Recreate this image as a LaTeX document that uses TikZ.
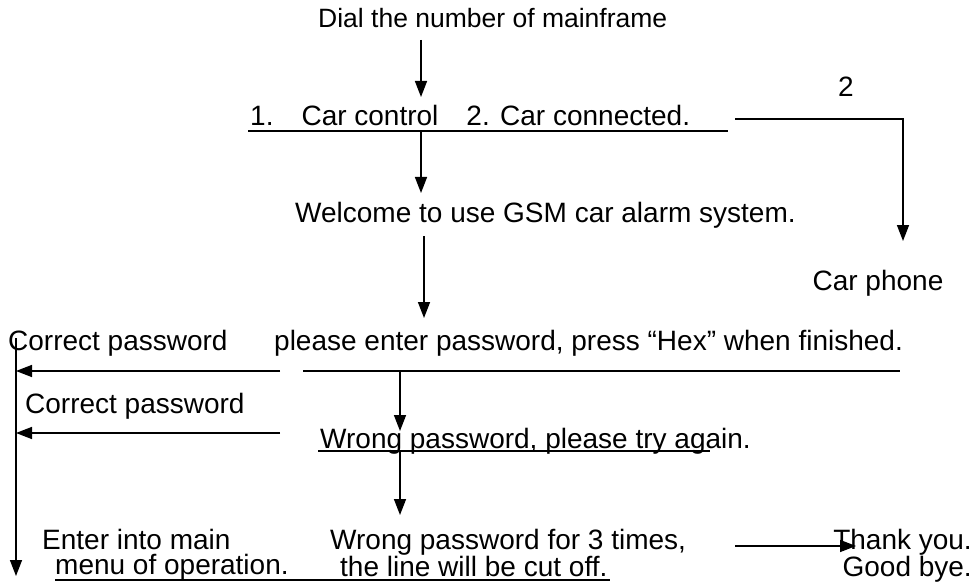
\documentclass[tikz,border=0pt]{standalone}
\usepackage{fontspec}
\setmainfont{Liberation Sans}
\usetikzlibrary{arrows.meta}
\begin{document}
\begin{tikzpicture}[x=1pt,y=1pt,
  lbl/.style={anchor=west,inner sep=0pt,font=\fontsize{28}{30}\selectfont},
  twoline/.style={lbl,anchor=north west,font=\fontsize{28}{25}\selectfont},
  conn/.style={line width=1.5pt},
  arr/.style={conn,-{Triangle[length=16pt,width=12pt]}}]
\useasboundingbox (0,0) rectangle (978,-583);
% texts
\node[lbl,font=\fontsize{26.5}{30}\selectfont] (dial) at (318,-18) {Dial the number of mainframe};
\node[lbl] (menu) at (250,-115) {1.\hspace{28pt}Car control\hspace{28pt}2. Car connected.};
\node[lbl,anchor=center] (two) at (846,-87) {2};
\node[lbl] (welcome) at (295,-215) {Welcome to use GSM car alarm system.};
\node[lbl,anchor=center] (phone) at (878,-283) {Car phone};
\node[lbl] (corr1) at (8,-343) {Correct password};
\node[lbl] (please) at (274,-343) {please enter password, press “Hex” when finished.};
\node[lbl] (corr2) at (25,-406) {Correct password};
\node[lbl] (wrong) at (320,-441) {Wrong password, please try again.};
\node[twoline,align=left] (enter) at (42,-529) {Enter into main\\\hspace*{13pt}menu of operation.};
\node[twoline,align=left] (cut) at (330,-529) {Wrong password for 3 times,\\\hspace*{10pt}the line will be cut off.};
\node[twoline,align=right,anchor=north east] (thank) at (972,-529) {Thank you.\\Good bye.};
% coordinates
\coordinate (a1s) at (421,-40);   \coordinate (a1e) at (421,-97);
\coordinate (u1l) at (248,-131);  \coordinate (u1r) at (728,-131);
\coordinate (a2s) at (421,-131);  \coordinate (a2e) at (421,-193);
\coordinate (r1) at (735,-119);   \coordinate (r2) at (903,-119);  \coordinate (r3) at (903,-241);
\coordinate (a3s) at (424,-236);  \coordinate (a3e) at (424,-318);
\coordinate (p1) at (280,-371);   \coordinate (p2) at (16,-371);
\coordinate (p3) at (303,-371);   \coordinate (p4) at (900,-371);
\coordinate (v1) at (400,-371);   \coordinate (v2) at (400,-431);
\coordinate (q1) at (280,-433);   \coordinate (q2) at (16,-433);
\coordinate (w1) at (318,-451);   \coordinate (w2) at (710,-451);
\coordinate (v3) at (400,-451);   \coordinate (v4) at (400,-515);
\coordinate (l1) at (16,-338);    \coordinate (l2) at (16,-576);
\coordinate (b1) at (55,-580);    \coordinate (b2) at (610,-580);
\coordinate (t1) at (735,-546);   \coordinate (t2) at (856,-546);
% connectors
\draw[arr] (a1s) -- (a1e);
\draw[conn] (u1l) -- (u1r);
\draw[arr] (a2s) -- (a2e);
\draw[arr] (r1) -- (r2) -- (r3);
\draw[arr] (a3s) -- (a3e);
\draw[arr] (p1) -- (p2);
\draw[conn] (p3) -- (p4);
\draw[arr] (v1) -- (v2);
\draw[arr] (q1) -- (q2);
\draw[conn] (w1) -- (w2);
\draw[arr] (v3) -- (v4);
\draw[arr] (l1) -- (l2);
\draw[line width=2.2pt] (b1) -- (b2);
\draw[arr] (t1) -- (t2);
\end{tikzpicture}
\end{document}
